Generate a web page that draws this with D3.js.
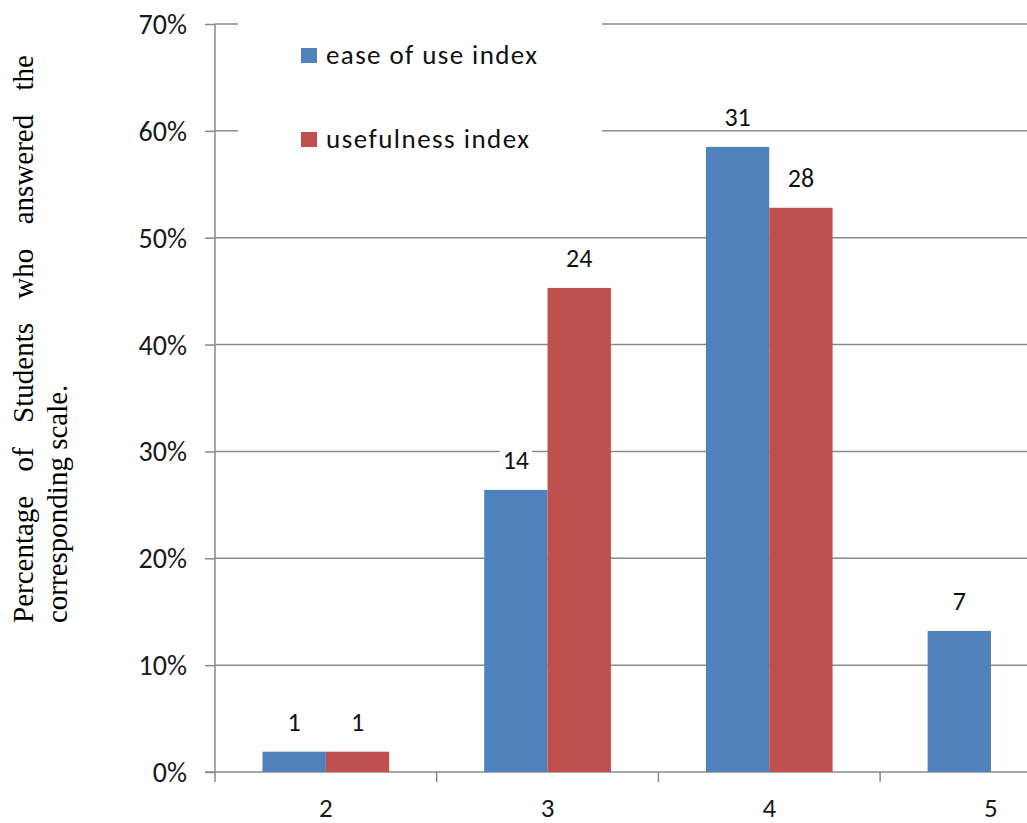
<!DOCTYPE html>
<html>
<head>
<meta charset="utf-8">
<script src="https://cdn.jsdelivr.net/npm/d3@7"></script>
<style>
  html, body { margin: 0; padding: 0; background: #fff; overflow: hidden; }
  svg { display: block; }
</style>
</head>
<body>
<svg id="chart" width="1027" height="823"></svg>
<script>
// ---- data ----
const categories = ["2", "3", "4", "5"];
const seriesNames = ["ease of use index", "usefulness index"];
const easeCounts = [1, 14, 31, 7];
const usefulCounts = [1, 24, 28, null];
const easePct = [0.019, 0.264, 0.585, 0.132];
const usefulPct = [0.019, 0.453, 0.528, null];
const yTicks = [0, 0.1, 0.2, 0.3, 0.4, 0.5, 0.6, 0.7];
const yTitleLine1 = ["Percentage", "of", "Students", "who", "answered", "the"];
const yTitleLine2 = "corresponding scale.";
const colors = ["#4F81BD", "#C0504D"];

const svg = d3.select("#chart");
const numFont = "Carlito, Calibri, Lato, sans-serif";
const gridColor = "#8a8a8a";

// scales
const x0 = 215, y0 = 772, yTop = 24;
const step = 221.7;
const x = d3.scaleBand().domain(categories).range([x0, x0 + step * categories.length]).paddingInner(0).paddingOuter(0);
const xs = d3.scaleBand().domain(seriesNames).range([0, x.bandwidth()]).paddingInner(0).paddingOuter(0.75);
const y = d3.scaleLinear().domain([0, 0.7]).range([y0, yTop]);

// gridlines
svg.append("g").selectAll("line").data(yTicks.filter(d => d > 0)).join("line")
  .attr("x1", x0).attr("x2", 1027)
  .attr("y1", d => y(d)).attr("y2", d => y(d))
  .attr("stroke", gridColor).attr("stroke-width", 1.5);

// legend background (occludes gridlines)
svg.append("rect").attr("x", 238).attr("y", 12).attr("width", 364).attr("height", 155).attr("fill", "#fff");

// y axis
const yAxis = d3.axisLeft(y).tickValues(yTicks).tickSize(10).tickFormat(d3.format(".0%"));
const gy = svg.append("g").attr("transform", `translate(${x0},0)`).call(yAxis);
gy.select(".domain").attr("stroke", gridColor).attr("stroke-width", 1.5).attr("d", `M0,${yTop}V${y0 + 10}`);
gy.selectAll(".tick line").attr("stroke", gridColor).attr("stroke-width", 1.5);
gy.selectAll(".tick text").attr("x", -28).attr("dy", "0.34em")
  .attr("font-family", numFont).attr("font-size", 28).attr("fill", "#1a1a1a");

// x axis
const boundaries = d3.range(categories.length + 1).map(i => x0 + i * step);
svg.append("line").attr("x1", 205).attr("x2", 1027).attr("y1", y0).attr("y2", y0)
  .attr("stroke", gridColor).attr("stroke-width", 1.5);
svg.append("g").selectAll("line").data(boundaries.slice(1)).join("line")
  .attr("x1", d => d).attr("x2", d => d).attr("y1", y0).attr("y2", y0 + 10)
  .attr("stroke", gridColor).attr("stroke-width", 1.5);
svg.append("g").selectAll("text").data(categories).join("text")
  .attr("x", d => x(d) + x.bandwidth() / 2).attr("y", 817)
  .attr("text-anchor", "middle").attr("font-family", numFont).attr("font-size", 27).attr("fill", "#1a1a1a")
  .text(d => d);

// bars
const rows = [];
categories.forEach((c, i) => {
  rows.push({ cat: c, s: seriesNames[0], v: easePct[i], n: easeCounts[i], col: colors[0] });
  rows.push({ cat: c, s: seriesNames[1], v: usefulPct[i], n: usefulCounts[i], col: colors[1] });
});
const valid = rows.filter(r => r.v != null);
svg.append("g").selectAll("rect").data(valid).join("rect")
  .attr("x", d => x(d.cat) + xs(d.s))
  .attr("width", xs.bandwidth())
  .attr("y", d => y(d.v))
  .attr("height", d => y0 - y(d.v))
  .attr("fill", d => d.col);

// data labels with white background
const lg = svg.append("g");
valid.forEach(d => {
  const cx = x(d.cat) + xs(d.s) + xs.bandwidth() / 2;
  const by = y(d.v) - 21;
  const bg = lg.append("rect").attr("fill", "#fff");
  const t = lg.append("text").attr("x", cx).attr("y", by).attr("text-anchor", "middle")
    .attr("font-family", numFont).attr("font-size", 26).attr("fill", "#111").text(d.n);
  const bb = t.node().getBBox();
  bg.attr("x", bb.x - 3).attr("y", bb.y + 3).attr("width", bb.width + 6).attr("height", by + 1 - (bb.y + 3));
});

// legend
const legY = [48, 132];
seriesNames.forEach((s, i) => {
  svg.append("rect").attr("x", 301).attr("y", legY[i]).attr("width", 16).attr("height", 15).attr("fill", colors[i]);
  svg.append("text").attr("x", 326).attr("y", legY[i] + 16)
    .attr("font-family", numFont).attr("font-size", 27).attr("fill", "#111")
    .attr("textLength", i === 0 ? 211 : 203).attr("lengthAdjust", "spacing")
    .text(s);
});

// y-axis title (rotated, first line justified)
const tg = svg.append("g").attr("transform", "rotate(-90)");
const serif = "'Liberation Serif', 'Times New Roman', serif";
const startY = 623, endY = 55;
const words = yTitleLine1.map(w => tg.append("text").attr("y", 33)
  .attr("font-family", serif).attr("font-size", 29).attr("fill", "#000").text(w));
const widths = words.map(t => t.node().getComputedTextLength());
const total = startY - endY;
const gap = (total - d3.sum(widths)) / (words.length - 1);
let pos = -startY;
words.forEach((t, i) => { t.attr("x", pos); pos += widths[i] + gap; });
tg.append("text").attr("x", -startY).attr("y", 67)
  .attr("font-family", serif).attr("font-size", 29).attr("fill", "#000").text(yTitleLine2);
</script>
</body>
</html>
